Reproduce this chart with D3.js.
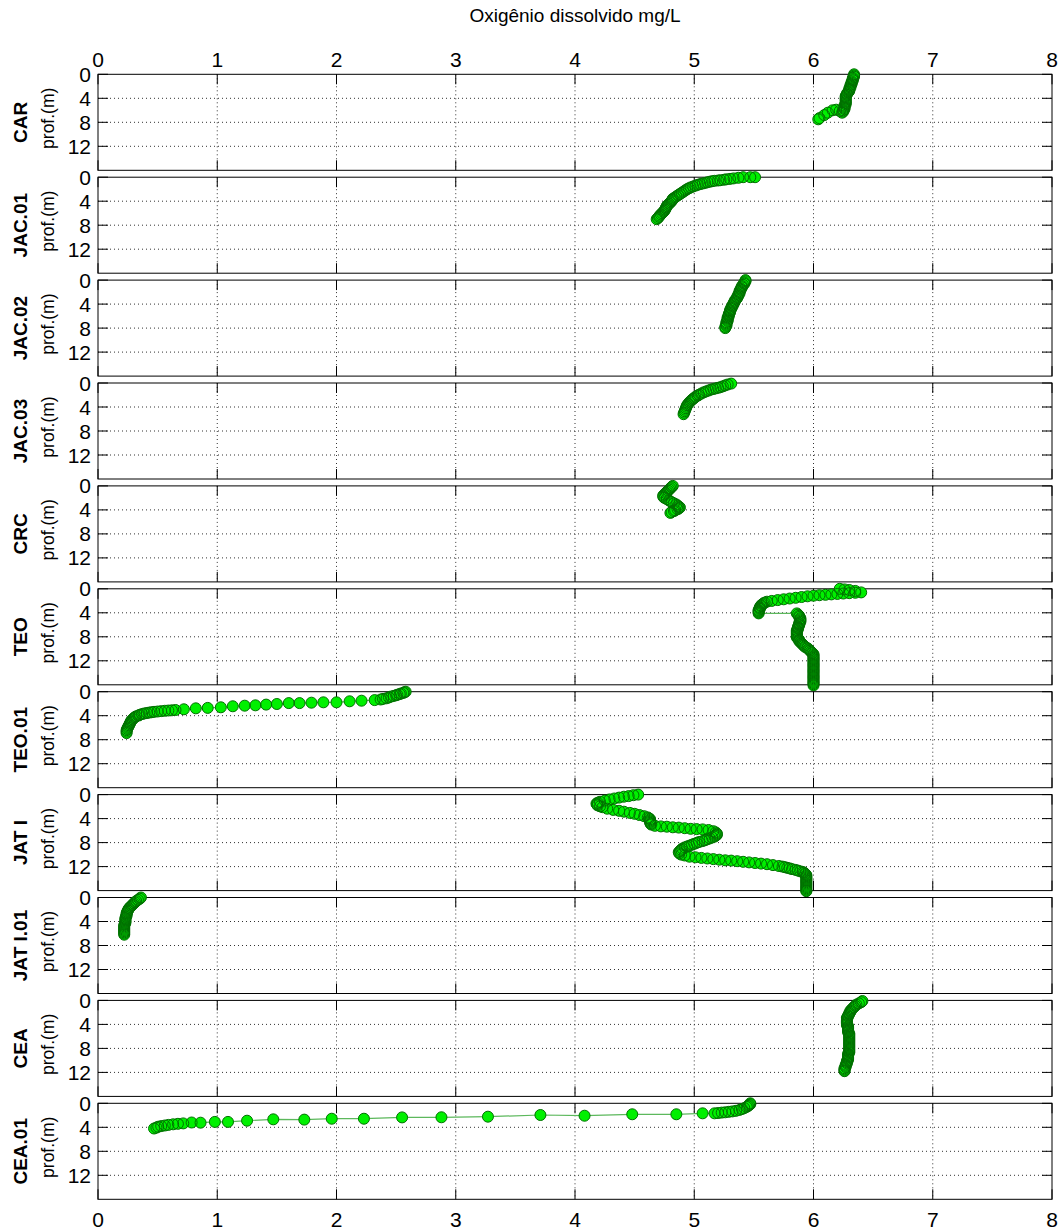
<!DOCTYPE html>
<html>
<head>
<meta charset="utf-8">
<script src="https://cdn.jsdelivr.net/npm/d3@7"></script>
<style>
  body { margin: 0; background: #fff; }
  svg text { font-family: "Liberation Sans", Arial, sans-serif; fill: #000; }
</style>
</head>
<body>
<svg id="chart" width="1063" height="1231"></svg>
<script>
// station names (one panel each) and axis ticks
const stations = ["CAR", "JAC.01", "JAC.02", "JAC.03", "CRC", "TEO", "TEO.01", "JAT I", "JAT I.01", "CEA", "CEA.01"];
const xTicks = [0, 1, 2, 3, 4, 5, 6, 7, 8];
const yTicks = [0, 4, 8, 12];

// profiles: [oxygen mg/L, depth m]
const CAR = [[6.34,0],[6.34,0.2],[6.34,0.4],[6.33,0.6],[6.33,0.8],[6.33,1.0],[6.32,1.2],[6.32,1.4],[6.32,1.6],[6.31,1.8],
  [6.31,2.0],[6.31,2.2],[6.30,2.4],[6.30,2.6],[6.30,2.8],[6.29,3.0],[6.28,3.2],[6.28,3.4],[6.27,3.6],[6.27,3.8],
  [6.27,4.0],[6.27,4.2],[6.27,4.4],[6.27,4.6],[6.27,4.8],[6.27,5.0],[6.26,5.2],[6.26,5.4],[6.26,5.6],[6.26,5.8],
  [6.25,6.0],[6.25,6.2],[6.24,6.4],[6.22,6.1],[6.19,5.9],[6.16,6.0],[6.12,6.4],[6.09,6.8],[6.05,7.3],[6.04,7.5]];
const JAC01 = [[5.51,0],[5.47,0],[5.41,0],[5.37,0.1],[5.33,0.2],[5.30,0.28],[5.27,0.35],[5.25,0.42],[5.22,0.5],[5.20,0.55],
  [5.17,0.6],[5.15,0.67],[5.13,0.75],[5.11,0.85],[5.09,0.95],[5.07,1.05],[5.05,1.15],[5.03,1.27],[5.01,1.4],[4.99,1.55],
  [4.97,1.7],[4.955,1.85],[4.94,2.0],[4.925,2.2],[4.91,2.4],[4.895,2.6],[4.88,2.8],[4.865,3.0],[4.85,3.2],[4.835,3.4],
  [4.82,3.6],[4.815,3.8],[4.81,4.0],[4.80,4.2],[4.79,4.4],[4.78,4.6],[4.77,4.8],[4.765,5.0],[4.76,5.2],[4.755,5.4],
  [4.75,5.6],[4.74,5.8],[4.73,6.0],[4.72,6.2],[4.71,6.4],[4.705,6.6],[4.695,6.8],[4.685,7.0]];
const JAC02 = [[5.43,0],[5.43,0.2],[5.42,0.4],[5.42,0.6],[5.41,0.8],[5.40,1.0],[5.40,1.2],[5.39,1.4],[5.39,1.6],[5.38,1.8],
  [5.38,2.0],[5.38,2.2],[5.37,2.4],[5.37,2.6],[5.36,2.8],[5.36,3.0],[5.35,3.2],[5.34,3.4],[5.34,3.6],[5.33,3.8],
  [5.33,4.0],[5.32,4.2],[5.32,4.4],[5.31,4.6],[5.31,4.8],[5.30,5.0],[5.30,5.2],[5.30,5.4],[5.29,5.6],[5.29,5.8],
  [5.29,6.0],[5.28,6.2],[5.28,6.4],[5.28,6.6],[5.28,6.8],[5.27,7.0],[5.27,7.2],[5.27,7.4],[5.27,7.6],[5.26,7.8],[5.26,8.0]];
const JAC03 = [[5.31,0.1],[5.28,0.25],[5.26,0.4],[5.24,0.55],[5.22,0.7],[5.20,0.8],[5.18,0.9],[5.16,1.0],[5.14,1.1],[5.12,1.25],
  [5.10,1.4],[5.08,1.55],[5.06,1.75],[5.04,1.95],[5.03,2.1],[5.01,2.3],[5.00,2.5],[4.99,2.65],[4.98,2.8],[4.97,3.0],
  [4.96,3.2],[4.95,3.45],[4.94,3.7],[4.935,3.95],[4.93,4.2],[4.925,4.45],[4.92,4.7],[4.915,4.95],[4.91,5.2]];
const CRC = [[4.82,0],[4.81,0.2],[4.80,0.4],[4.79,0.6],[4.78,0.8],[4.77,1.0],[4.76,1.2],[4.75,1.4],[4.74,1.6],[4.74,1.8],
  [4.75,2.0],[4.77,2.2],[4.79,2.45],[4.81,2.7],[4.83,2.9],[4.85,3.1],[4.86,3.3],[4.87,3.45],[4.88,3.6],[4.87,3.75],
  [4.86,3.9],[4.84,4.05],[4.83,4.2],[4.81,4.35],[4.80,4.5]];
const TEO = [[6.22,0],[6.26,0.1],[6.30,0.2],[6.35,0.35],[6.40,0.6],[6.35,0.66],[6.30,0.73],[6.25,0.79],[6.20,0.86],[6.15,0.93],
  [6.10,1.0],[6.05,1.07],[6.00,1.15],[5.95,1.25],[5.90,1.37],[5.85,1.5],[5.80,1.62],[5.75,1.75],[5.70,1.88],[5.65,2.02],
  [5.61,2.15],[5.59,2.3],[5.58,2.45],[5.57,2.6],[5.56,2.75],[5.56,2.9],[5.55,3.05],[5.55,3.2],[5.55,3.35],[5.54,3.5],
  [5.54,3.65],[5.54,3.8],[5.54,3.95],[5.54,4.1],
  [5.86,4.1],[5.87,4.3],[5.88,4.5],[5.88,4.7],[5.89,4.9],[5.89,5.1],[5.89,5.3],[5.89,5.5],[5.88,5.7],[5.88,5.9],
  [5.88,6.1],[5.87,6.3],[5.87,6.5],[5.87,6.7],[5.86,6.9],[5.86,7.1],[5.86,7.3],[5.86,7.5],[5.86,7.7],[5.86,7.9],
  [5.86,8.1],[5.87,8.3],[5.88,8.5],[5.88,8.7],[5.89,8.9],[5.90,9.1],[5.91,9.3],[5.92,9.5],[5.93,9.7],[5.95,9.9],
  [5.96,10.1],[5.97,10.3],[5.98,10.5],[5.99,10.7],[6.00,10.9],[6.00,11.1],[6.00,11.3],[6.00,11.5],[6.00,11.7],[6.00,11.9],
  [6.00,12.1],[6.00,12.3],[6.00,12.5],[6.00,12.7],[6.00,12.9],[6.00,13.1],[6.00,13.3],[6.00,13.5],[6.00,13.7],[6.00,13.9],
  [6.00,14.1],[6.00,14.3],[6.00,14.5],[6.00,14.7],[6.00,14.9],[6.00,15.1],[6.00,15.3],[6.00,15.5],[6.00,15.7],[6.00,15.9],[6.00,16.1]];
const TEO01 = [[2.58,0],[2.57,0.1],[2.56,0.2],[2.54,0.3],[2.53,0.4],[2.51,0.5],[2.50,0.6],[2.48,0.7],[2.46,0.8],[2.44,0.95],
  [2.42,1.1],[2.39,1.2],[2.37,1.3],[2.32,1.4],[2.21,1.5],[2.11,1.6],[2.00,1.77],[1.89,1.77],[1.79,1.83],[1.69,1.9],
  [1.60,1.9],[1.50,2.05],[1.41,2.15],[1.32,2.27],[1.23,2.33],[1.13,2.43],[1.03,2.6],[0.92,2.7],[0.82,2.77],[0.72,2.93],
  [0.65,3.05],[0.62,3.1],[0.59,3.14],[0.56,3.18],[0.53,3.24],[0.50,3.3],[0.47,3.36],[0.45,3.42],[0.43,3.48],[0.41,3.55],
  [0.39,3.62],[0.37,3.72],[0.35,3.85],[0.34,3.97],[0.32,4.1],[0.31,4.25],[0.30,4.4],[0.29,4.6],[0.28,4.8],[0.275,5.0],
  [0.27,5.2],[0.265,5.4],[0.26,5.6],[0.255,5.8],[0.25,6.0],[0.245,6.2],[0.24,6.4],[0.24,6.65],[0.24,6.9]];
const JATI = [[4.53,0],[4.49,0.1],[4.45,0.25],[4.41,0.35],[4.37,0.5],[4.33,0.65],[4.29,0.8],[4.25,1.0],[4.21,1.2],[4.19,1.35],
  [4.18,1.5],[4.185,1.65],[4.19,1.8],[4.21,1.95],[4.23,2.1],[4.27,2.35],[4.32,2.55],[4.37,2.7],[4.41,2.85],[4.46,3.05],
  [4.50,3.2],[4.54,3.4],[4.58,3.6],[4.61,3.8],[4.62,3.95],[4.63,4.1],[4.63,4.3],[4.63,4.5],[4.63,4.7],[4.635,4.85],
  [4.64,5.0],[4.67,5.2],[4.72,5.3],[4.77,5.35],[4.82,5.45],[4.87,5.5],[4.92,5.6],[4.97,5.7],[5.02,5.75],[5.07,5.8],
  [5.12,5.9],[5.16,6.1],[5.18,6.3],[5.19,6.5],[5.19,6.7],[5.18,6.85],[5.17,7.0],[5.15,7.15],[5.13,7.3],[5.11,7.45],
  [5.09,7.6],[5.07,7.75],[5.04,7.9],[5.02,8.05],[5.00,8.2],[4.98,8.35],[4.96,8.5],[4.94,8.65],[4.92,8.8],[4.90,9.0],
  [4.89,9.2],[4.88,9.4],[4.87,9.6],[4.875,9.8],[4.89,10.0],[4.92,10.15],[4.96,10.35],[5.01,10.45],[5.06,10.55],[5.11,10.65],
  [5.16,10.75],[5.21,10.85],[5.26,10.95],[5.31,11.0],[5.36,11.1],[5.41,11.2],[5.46,11.3],[5.51,11.4],[5.56,11.5],[5.61,11.6],
  [5.66,11.75],[5.71,11.9],[5.74,12.0],[5.76,12.1],[5.78,12.2],[5.80,12.3],[5.82,12.42],[5.85,12.55],[5.87,12.67],[5.89,12.8],
  [5.91,12.9],[5.92,13.0],[5.93,13.2],[5.94,13.4],[5.94,13.6],[5.94,13.8],[5.94,14.0],[5.94,14.2],[5.94,14.4],[5.94,14.6],
  [5.94,14.8],[5.94,15.0],[5.94,15.2],[5.94,15.4],[5.94,15.6],[5.94,15.8],[5.94,16.0],[5.94,16.1]];
const JATI01 = [[0.36,0],[0.35,0.2],[0.335,0.4],[0.32,0.6],[0.31,0.8],[0.30,1.0],[0.29,1.2],[0.28,1.4],[0.27,1.6],[0.26,1.8],
  [0.255,2.0],[0.25,2.2],[0.245,2.4],[0.24,2.6],[0.24,2.8],[0.24,3.0],[0.235,3.2],[0.23,3.4],[0.23,3.6],[0.23,3.8],
  [0.23,4.0],[0.23,4.2],[0.225,4.4],[0.22,4.6],[0.22,4.8],[0.22,5.0],[0.22,5.2],[0.22,5.4],[0.22,5.6],[0.22,5.8],
  [0.22,6.0],[0.22,6.2]];
const CEA = [[6.41,0.1],[6.40,0.3],[6.38,0.5],[6.36,0.7],[6.35,0.9],[6.34,1.1],[6.33,1.3],[6.32,1.5],[6.31,1.7],[6.31,1.9],
  [6.30,2.1],[6.30,2.3],[6.29,2.5],[6.29,2.7],[6.28,2.9],[6.28,3.1],[6.28,3.3],[6.28,3.5],[6.28,3.7],[6.28,3.9],
  [6.28,4.1],[6.29,4.3],[6.29,4.5],[6.29,4.7],[6.29,4.9],[6.29,5.1],[6.29,5.3],[6.30,5.5],[6.30,5.7],[6.30,5.9],
  [6.30,6.1],[6.30,6.3],[6.30,6.5],[6.30,6.7],[6.30,6.9],[6.30,7.1],[6.30,7.3],[6.30,7.5],[6.30,7.7],[6.30,7.9],
  [6.30,8.1],[6.30,8.3],[6.30,8.5],[6.30,8.7],[6.29,8.9],[6.29,9.1],[6.29,9.3],[6.29,9.5],[6.29,9.7],[6.29,9.9],
  [6.28,10.1],[6.28,10.3],[6.28,10.5],[6.27,10.7],[6.27,10.9],[6.27,11.1],[6.26,11.3],[6.26,11.5],[6.26,11.7],[6.26,11.8]];
const CEA01 = [[0.47,4.2],[0.49,4.05],[0.505,3.9],[0.53,3.8],[0.56,3.7],[0.59,3.6],[0.63,3.5],[0.67,3.42],[0.715,3.35],[0.785,3.2],
  [0.86,3.23],[0.98,3.1],[1.09,3.1],[1.25,2.9],[1.47,2.67],[1.73,2.72],[1.96,2.57],[2.23,2.57],[2.55,2.35],[2.88,2.33],
  [3.27,2.23],[3.71,1.95],[4.08,2.07],[4.48,1.83],[4.85,1.83],[5.07,1.67],[5.17,1.67],[5.20,1.62],[5.23,1.55],[5.26,1.5],
  [5.29,1.42],[5.32,1.35],[5.35,1.25],[5.38,1.1],[5.40,0.95],[5.42,0.8],[5.44,0.6],[5.45,0.45],[5.46,0.3],[5.47,0.15],[5.47,0]];
const profiles = [CAR, JAC01, JAC02, JAC03, CRC, TEO, TEO01, JATI, JATI01, CEA, CEA01];

var left = 98, right = 1052, top0 = 74.3, step = 102.9, ph = 96;
var svg = d3.select("#chart");

var x = d3.scaleLinear().domain([0, 8]).range([left, right]);
var y = d3.scaleLinear().domain([0, 16]).range([0, ph]);

svg.append("text")
  .attr("x", (left + right) / 2).attr("y", 22)
  .attr("text-anchor", "middle").style("font-size", "19px")
  .text("Oxigênio dissolvido mg/L");

stations.forEach(function(name, i) {
  var g = svg.append("g").attr("transform", "translate(0," + (top0 + i * step) + ")");

  // dotted grid
  g.selectAll(".gx").data(xTicks.slice(1, -1)).enter().append("line")
    .attr("x1", d => x(d)).attr("x2", d => x(d)).attr("y1", 0).attr("y2", ph)
    .attr("stroke", "#333").attr("stroke-width", 1).attr("stroke-dasharray", "1,3");
  g.selectAll(".gy").data(yTicks.slice(1)).enter().append("line")
    .attr("x1", left).attr("x2", right).attr("y1", d => y(d)).attr("y2", d => y(d))
    .attr("stroke", "#333").attr("stroke-width", 1).attr("stroke-dasharray", "1,3");

  // inward ticks
  var tl = 10;
  g.selectAll(".tx").data(xTicks).enter().append("path")
    .attr("d", d => "M" + x(d) + ",0v" + tl + "M" + x(d) + "," + ph + "v" + (-tl))
    .attr("stroke", "#000").attr("stroke-width", 1);
  g.selectAll(".ty").data(yTicks).enter().append("path")
    .attr("d", d => "M" + left + "," + y(d) + "h" + tl + "M" + right + "," + y(d) + "h" + (-tl))
    .attr("stroke", "#000").attr("stroke-width", 1);

  g.append("rect").attr("x", left).attr("y", 0).attr("width", right - left).attr("height", ph)
    .attr("fill", "none").attr("stroke", "#000").attr("stroke-width", 1);

  g.selectAll(".yl").data(yTicks).enter().append("text")
    .attr("x", left - 7).attr("y", d => y(d)).attr("dy", "0.36em")
    .attr("text-anchor", "end").style("font-size", "21px").text(d => d);

  if (i === 0) {
    g.selectAll(".xt").data(xTicks).enter().append("text")
      .attr("x", d => x(d)).attr("y", -7).attr("text-anchor", "middle")
      .style("font-size", "21px").text(d => d);
  }
  if (i === stations.length - 1) {
    g.selectAll(".xb").data(xTicks).enter().append("text")
      .attr("x", d => x(d)).attr("y", ph + 28).attr("text-anchor", "middle")
      .style("font-size", "21px").text(d => d);
  }

  g.append("text").attr("transform", "translate(27," + (ph / 2) + ") rotate(-90)")
    .attr("text-anchor", "middle").style("font-size", "19px").style("font-weight", "bold").text(name);
  g.append("text").attr("transform", "translate(54," + (ph / 2 - 4) + ") rotate(-90)")
    .attr("text-anchor", "middle").style("font-size", "17.5px").text("prof.(m)");

  var data = profiles[i];
  var line = d3.line().x(d => x(d[0])).y(d => y(d[1]));
  g.append("path").datum(data).attr("d", line)
    .attr("fill", "none").attr("stroke", "#5cb85c").attr("stroke-width", 1.2);
  // marker faces first, then all marker edges on top
  g.selectAll("circle.face").data(data).enter().append("circle").attr("class", "face")
    .attr("cx", d => x(d[0])).attr("cy", d => y(d[1])).attr("r", 5.5)
    .attr("fill", "#00f000").attr("stroke", "none");
  g.selectAll("circle.edge").data(data).enter().append("circle").attr("class", "edge")
    .attr("cx", d => x(d[0])).attr("cy", d => y(d[1])).attr("r", 5.5)
    .attr("fill", "none").attr("stroke", "#007000").attr("stroke-width", 1);
});
</script>
</body>
</html>
